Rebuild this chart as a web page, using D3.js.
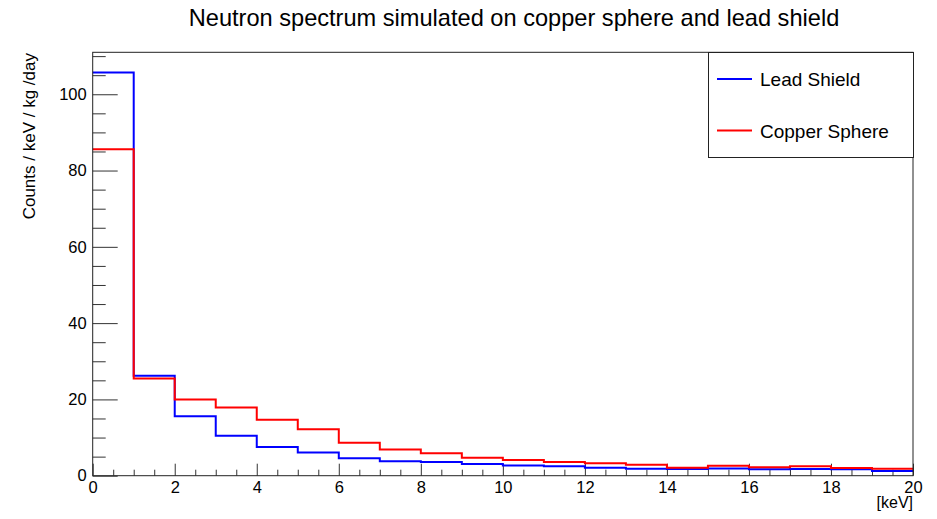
<!DOCTYPE html>
<html>
<head>
<meta charset="utf-8">
<script src="https://cdn.jsdelivr.net/npm/d3@7"></script>
<style>
  body { margin: 0; background: #fff; }
  svg { display: block; font-family: "Liberation Sans", Arial, Helvetica, sans-serif; }
</style>
</head>
<body>
<div id="chart"></div>
<script>
// bin low edges [keV], width 1
const binLow = [0, 1, 2, 3, 4, 5, 6, 7, 8, 9, 10, 11, 12, 13, 14, 15, 16, 17, 18, 19];
const leadShield = [105.7, 26.2, 15.6, 10.5, 7.5, 6.1, 4.6, 3.8, 3.6, 3.05, 2.7, 2.45, 2.1, 1.85, 1.75, 1.9, 1.7, 1.75, 1.7, 1.2];
const copperSphere = [85.6, 25.5, 20.0, 17.9, 14.7, 12.2, 8.65, 6.9, 5.9, 4.7, 4.1, 3.6, 3.25, 2.85, 2.1, 2.6, 2.2, 2.45, 2.0, 1.85];
const xMajorTicks = [0, 2, 4, 6, 8, 10, 12, 14, 16, 18, 20];
const yMajorTicks = [0, 20, 40, 60, 80, 100];
const seriesNames = ["Lead Shield", "Copper Sphere"];

const W = 937, H = 519;
const frame = { left: 92.7, right: 913, top: 52.3, bottom: 475.7 };

const svg = d3.select("#chart").append("svg")
  .attr("width", W)
  .attr("height", H);

const x = d3.scaleLinear().domain([0, 20]).range([frame.left, frame.right]);
const y = d3.scaleLinear().domain([0, 111]).range([frame.bottom, frame.top]);

// titre
svg.append("text")
  .attr("x", 514)
  .attr("y", 26)
  .attr("text-anchor", "middle")
  .style("font-size", "23.6px")
  .text("Neutron spectrum simulated on copper sphere and lead shield");

// minor ticks
const xMinor = [];
for (let v = 0; v <= 20; v += 0.5) if (v % 2 !== 0) xMinor.push(v);
const yMinor = [];
for (let v = 0; v <= 110; v += 5) if (v % 20 !== 0) yMinor.push(v);

svg.append("g")
  .attr("transform", `translate(0,${frame.bottom})`)
  .call(d3.axisBottom(x).tickValues(xMinor).tickSize(-6).tickFormat(""))
  .call(g => g.select(".domain").remove());

svg.append("g")
  .attr("transform", `translate(0,${frame.bottom})`)
  .call(d3.axisBottom(x).tickValues(xMajorTicks).tickSize(-12).tickPadding(6).tickFormat(d3.format("d")))
  .call(g => g.select(".domain").remove())
  .call(g => g.selectAll("text").style("font-size", "16.5px").attr("fill", "#000"));

svg.append("g")
  .attr("transform", `translate(${frame.left},0)`)
  .call(d3.axisLeft(y).tickValues(yMinor).tickSize(-13).tickFormat(""))
  .call(g => g.select(".domain").remove());

svg.append("g")
  .attr("transform", `translate(${frame.left},0)`)
  .call(d3.axisLeft(y).tickValues(yMajorTicks).tickSize(-25).tickPadding(6).tickFormat(d3.format("d")))
  .call(g => g.select(".domain").remove())
  .call(g => g.selectAll("text").style("font-size", "16.5px").attr("fill", "#000"));

svg.selectAll(".tick line").attr("stroke", "#333");

// histogrammes
function stepPath(vals) {
  const pts = [];
  vals.forEach((v, i) => {
    pts.push([x(binLow[i]), y(v)]);
    pts.push([x(binLow[i] + 1), y(v)]);
  });
  return d3.line()(pts);
}

const colors = ["#0000ff", "#ff0000"];
[leadShield, copperSphere].forEach((vals, i) => {
  svg.append("path")
    .attr("d", stepPath(vals))
    .attr("fill", "none")
    .attr("stroke", colors[i])
    .attr("stroke-width", 2);
});

// cadre
svg.append("rect")
  .attr("x", frame.left)
  .attr("y", frame.top)
  .attr("width", frame.right - frame.left)
  .attr("height", frame.bottom - frame.top)
  .attr("fill", "none")
  .attr("stroke", "#222")
  .attr("stroke-width", 1);

// titres des axes
svg.append("text")
  .attr("x", frame.right)
  .attr("y", 508)
  .attr("text-anchor", "end")
  .style("font-size", "16px")
  .text("[keV]");

svg.append("text")
  .attr("transform", `translate(35,53) rotate(-90)`)
  .attr("text-anchor", "end")
  .style("font-size", "17px")
  .text("Counts / keV / kg /day");

// légende
const legend = svg.append("g");
legend.append("rect")
  .attr("x", 708.5)
  .attr("y", 52.5)
  .attr("width", 205)
  .attr("height", 105)
  .attr("fill", "#fff")
  .attr("stroke", "#222")
  .attr("stroke-width", 1);

seriesNames.forEach((name, i) => {
  const ly = 79 + i * 51.5;
  legend.append("line")
    .attr("x1", 717).attr("x2", 752)
    .attr("y1", ly).attr("y2", ly)
    .attr("stroke", colors[i])
    .attr("stroke-width", 2);
  legend.append("text")
    .attr("x", 760)
    .attr("y", ly + 7)
    .style("font-size", "19px")
    .text(name);
});
</script>
</body>
</html>
